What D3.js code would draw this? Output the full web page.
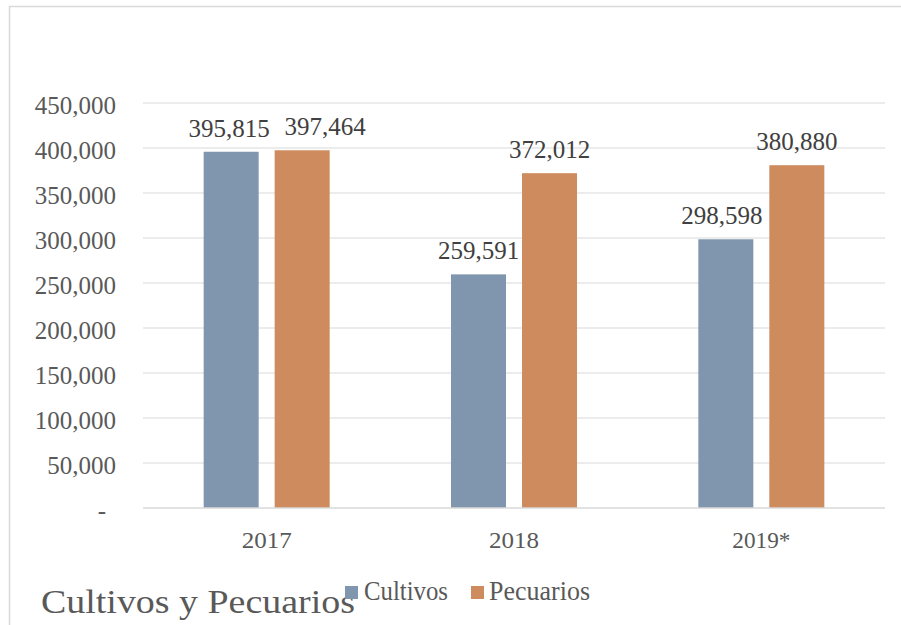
<!DOCTYPE html>
<html>
<head>
<meta charset="utf-8">
<script src="https://cdn.jsdelivr.net/npm/d3@7"></script>
<style>
  html, body { margin: 0; padding: 0; background: #fff; }
  svg { display: block; }
</style>
</head>
<body>
<script>
const categories = ["2017", "2018", "2019*"];
const seriesNames = ["Cultivos", "Pecuarios"];
const cultivos = [395815, 259591, 298598];
const pecuarios = [397464, 372012, 380880];
const yTicks = [0, 50000, 100000, 150000, 200000, 250000, 300000, 350000, 400000, 450000];
const colors = ["#7f96ae", "#cd8b5e"];
const titleText = "Cultivos y Pecuarios";

const W = 901, H = 625;
const svg = d3.select("body").append("svg").attr("width", W).attr("height", H);
const serif = "'Liberation Serif', 'Times New Roman', serif";

// outer border
svg.append("rect").attr("x", 9.5).attr("y", 6.5).attr("width", W).attr("height", H)
  .attr("fill", "none").attr("stroke", "#d9d9d9").attr("stroke-width", 1.5);

const plot = { left: 143, right: 885, top: 103, bottom: 508 };

const x0 = d3.scaleBand().domain(categories).range([plot.left, plot.right]);
const y = d3.scaleLinear().domain([0, 450000]).range([plot.bottom, plot.top]);

// gridlines
svg.append("g").selectAll("line").data(yTicks.filter(t => t > 0)).join("line")
  .attr("x1", plot.left).attr("x2", plot.right)
  .attr("y1", d => y(d)).attr("y2", d => y(d))
  .attr("stroke", "#d9d9d9").attr("stroke-width", 1.2);

// y axis labels
const fmt = d3.format(",");
const yAxis = d3.axisLeft(y).tickValues(yTicks).tickSize(0).tickPadding(0)
  .tickFormat(d => d === 0 ? "-" : fmt(d));
const gy = svg.append("g").attr("transform", `translate(116,0)`).call(yAxis);
gy.select(".domain").remove();
gy.selectAll("text")
  .attr("font-family", serif).attr("font-size", 25).attr("fill", "#595959")
  .attr("dy", "0.4em")
  .attr("dx", d => d === 0 ? -10 : 0);

// bars
const series = [cultivos, pecuarios];
const barW = 55, gap = 16;
const offset = i => i === 0 ? -(gap / 2 + barW) : gap / 2;
const nudges = { "0-0": -2, "0-1": 23, "2-0": -4 };

series.forEach((vals, si) => {
  const g = svg.append("g");
  g.selectAll("rect").data(vals).join("rect")
    .attr("x", (d, i) => x0(categories[i]) + x0.bandwidth() / 2 + offset(si))
    .attr("y", d => y(d))
    .attr("width", barW)
    .attr("height", d => y(0) - y(d))
    .attr("fill", colors[si]);
  g.selectAll("text").data(vals).join("text")
    .attr("x", (d, i) => x0(categories[i]) + x0.bandwidth() / 2 + offset(si) + barW / 2 + (nudges[i + "-" + si] || 0))
    .attr("y", d => y(d) - 15)
    .attr("text-anchor", "middle")
    .attr("font-family", serif).attr("font-size", 25).attr("fill", "#404040")
    .text(d => fmt(d));
});

// baseline axis
svg.append("line").attr("x1", plot.left).attr("x2", plot.right)
  .attr("y1", plot.bottom).attr("y2", plot.bottom)
  .attr("stroke", "#d9d9d9").attr("stroke-width", 1.5);

// category labels
const xAxis = d3.axisBottom(x0).tickSize(0).tickPadding(0);
const gx = svg.append("g").attr("transform", `translate(0,548)`).call(xAxis);
gx.select(".domain").remove();
gx.selectAll("text")
  .attr("font-family", serif).attr("font-size", 23).attr("fill", "#595959")
  .attr("dy", 0)
  .attr("textLength", d => d === "2019*" ? 58 : 50)
  .attr("lengthAdjust", "spacingAndGlyphs");

// title
svg.append("text").attr("x", 41).attr("y", 613)
  .attr("font-family", serif).attr("font-size", 34).attr("fill", "#595959")
  .attr("textLength", 314).attr("lengthAdjust", "spacingAndGlyphs")
  .text(titleText);

// legend
const legendItems = [
  { name: seriesNames[0], color: colors[0], sq: 345, tx: 364, tl: 84 },
  { name: seriesNames[1], color: colors[1], sq: 471, tx: 489, tl: 101 }
];
const lg = svg.append("g");
legendItems.forEach(it => {
  lg.append("rect").attr("x", it.sq).attr("y", 586).attr("width", 13).attr("height", 13).attr("fill", it.color);
  lg.append("text").attr("x", it.tx).attr("y", 600)
    .attr("font-family", serif).attr("font-size", 27).attr("fill", "#595959")
    .attr("textLength", it.tl).attr("lengthAdjust", "spacingAndGlyphs")
    .text(it.name);
});
</script>
</body>
</html>
